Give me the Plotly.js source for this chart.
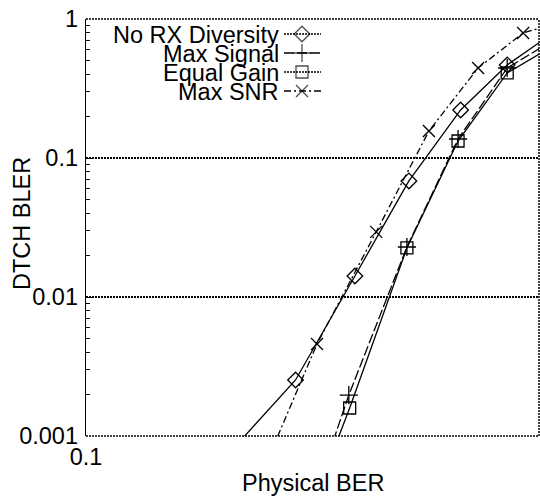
<!DOCTYPE html>
<html>
<head>
<meta charset="utf-8">
<script src="https://cdn.plot.ly/plotly-3.0.1.min.js"></script>
<style>html,body{margin:0;padding:0;background:#fff;}#chart{width:540px;height:498px;}</style>
</head>
<body>
<div id="chart"></div>
<script>
// Data (Physical BER vs DTCH BLER)
var seriesNames = ["No RX Diversity", "Max Signal", "Equal Gain", "Max SNR"];

var noRxBER  = [0.1203, 0.1378, 0.1509, 0.1639, 0.1774, 0.1905, 0.2098];
var noRxBLER = [0.0005, 0.00253, 0.01416, 0.0684, 0.2215, 0.467, 0.967];

var maxSigBER  = [0.1432, 0.1495, 0.1634, 0.1767, 0.1905, 0.2098];
var maxSigBLER = [0.0005, 0.00197, 0.0229, 0.137, 0.444, 0.833];

var eqGainBER  = [0.1437, 0.1497, 0.1634, 0.1767, 0.1905, 0.2098];
var eqGainBLER = [0.0005, 0.00159, 0.02253, 0.1325, 0.409, 0.754];

var maxSnrBER  = [0.1305, 0.1424, 0.1559, 0.169, 0.1822, 0.1952, 0.2098];
var maxSnrBLER = [0.0005, 0.00459, 0.0294, 0.1564, 0.444, 0.793, 1.0];

var xTickVals = [0.1];
var xTickText = ["0.1"];
var yTickVals = [0.001, 0.01, 0.1, 1];
var yTickText = ["0.001", "0.01", "0.1", "1"];
var xTitle = "Physical BER";
var yTitle = "DTCH BLER";

// minor tick positions (2..9 within each decade)
var yMinor = [];
[0.001, 0.01, 0.1].forEach(function (d) { for (var k = 2; k <= 9; k++) yMinor.push(d * k); });

var FONT = "Liberation Sans, Arial, Helvetica, sans-serif";
var FS = 23.5;
var styles = [
  {symbol: "diamond-open", size: 12, dash: "solid"},
  {symbol: "cross-thin-open", size: 13, dash: "10px,3px"},
  {symbol: "square-open", size: 12, dash: "solid"},
  {symbol: "x-thin-open", size: 12, dash: "7px,3px,2px,3px"}
];
var xs = [noRxBER, maxSigBER, eqGainBER, maxSnrBER];
var ys = [noRxBLER, maxSigBLER, eqGainBLER, maxSnrBLER];

var traces = [];
for (var i = 0; i < 4; i++) {
  traces.push({
    type: "scatter", mode: "lines+markers", name: seriesNames[i],
    x: xs[i], y: ys[i], showlegend: false,
    line: {color: "black", width: 1.3, dash: styles[i].dash},
    marker: {symbol: styles[i].symbol, size: styles[i].size, color: "black",
             line: {color: "black", width: 1.3}}
  });
}

// custom gnuplot-style key (text right-aligned, sample on the right)
var keyRows = [34, 53, 72, 91];
var keyTextX = 281, keyL = 284, keyR = 321, keyM = 302;
var annotations = [], shapes = [];
for (var j = 0; j < 4; j++) {
  annotations.push({xref: "x2", yref: "y2", x: keyTextX, y: keyRows[j] + 1, text: seriesNames[j],
    showarrow: false, xanchor: "right", yanchor: "middle",
    font: {family: FONT, size: FS, color: "black"}});
  shapes.push({type: "line", xref: "x2", yref: "y2", x0: keyL, x1: keyR, y0: keyRows[j], y1: keyRows[j],
    line: {color: "black", width: 1.3, dash: j === 0 || j === 2 ? "2px,1px" : styles[j].dash}});
}
traces.push({
  type: "scatter", mode: "markers", xaxis: "x2", yaxis: "y2", showlegend: false,
  x: [keyM, keyM, keyM, keyM], y: keyRows, cliponaxis: false, hoverinfo: "skip",
  marker: {symbol: styles.map(function (s) { return s.symbol; }),
           size: styles.map(function (s) { return s.size; }),
           color: "black", line: {color: "black", width: 1.3}}
});

// axis titles placed like gnuplot
annotations.push({xref: "paper", yref: "paper", x: (22 - 86) / 453, y: (436 - 224) / 417,
  text: yTitle, textangle: -90, showarrow: false, xanchor: "center", yanchor: "middle",
  font: {family: FONT, size: FS, color: "black"}});
annotations.push({xref: "paper", yref: "paper", x: (313 - 86) / 453, y: (436 - 483) / 417,
  text: xTitle, showarrow: false, xanchor: "center", yanchor: "middle",
  font: {family: FONT, size: FS, color: "black"}});

// dotted border: top, right, bottom
var dot = {color: "black", width: 1.5, dash: "2px,1px"};
shapes.push({type: "line", xref: "paper", yref: "paper", x0: 0, x1: 1, y0: 1, y1: 1, line: dot});
shapes.push({type: "line", xref: "paper", yref: "paper", x0: 1, x1: 1, y0: 0, y1: 1, line: dot});
shapes.push({type: "line", xref: "paper", yref: "paper", x0: 0, x1: 1, y0: 0, y1: 0, line: dot});

var layout = {
  width: 540, height: 498,
  margin: {l: 86, r: 1, t: 19, b: 62},
  paper_bgcolor: "white", plot_bgcolor: "white",
  showlegend: false,
  font: {family: FONT, size: FS, color: "black"},
  xaxis: {
    type: "log", range: [-1, Math.log10(0.2)],
    tickvals: xTickVals, ticktext: xTickText, ticks: "",
    showgrid: false, zeroline: false, showline: false,
    ticklabelstandoff: 4,
    tickfont: {family: FONT, size: FS}
  },
  yaxis: {
    type: "log", range: [-3, 0],
    tickvals: yTickVals, ticktext: yTickText,
    ticks: "inside", ticklen: 7, tickcolor: "black", tickwidth: 1,
    minor: {tickvals: yMinor, ticks: "inside", ticklen: 4, tickcolor: "black", tickwidth: 1, showgrid: false},
    showgrid: true, gridcolor: "black", gridwidth: 1.5, griddash: "2px,1px",
    showline: true, linecolor: "black", linewidth: 1.3, mirror: false,
    zeroline: false,
    ticklabelstandoff: 2,
    tickfont: {family: FONT, size: FS}
  },
  xaxis2: {overlaying: "x", range: [86, 539], visible: false, fixedrange: true},
  yaxis2: {overlaying: "y", range: [436, 19], visible: false, fixedrange: true},
  annotations: annotations,
  shapes: shapes
};

Plotly.newPlot("chart", traces, layout, {displayModeBar: false, staticPlot: true});
</script>
</body>
</html>
